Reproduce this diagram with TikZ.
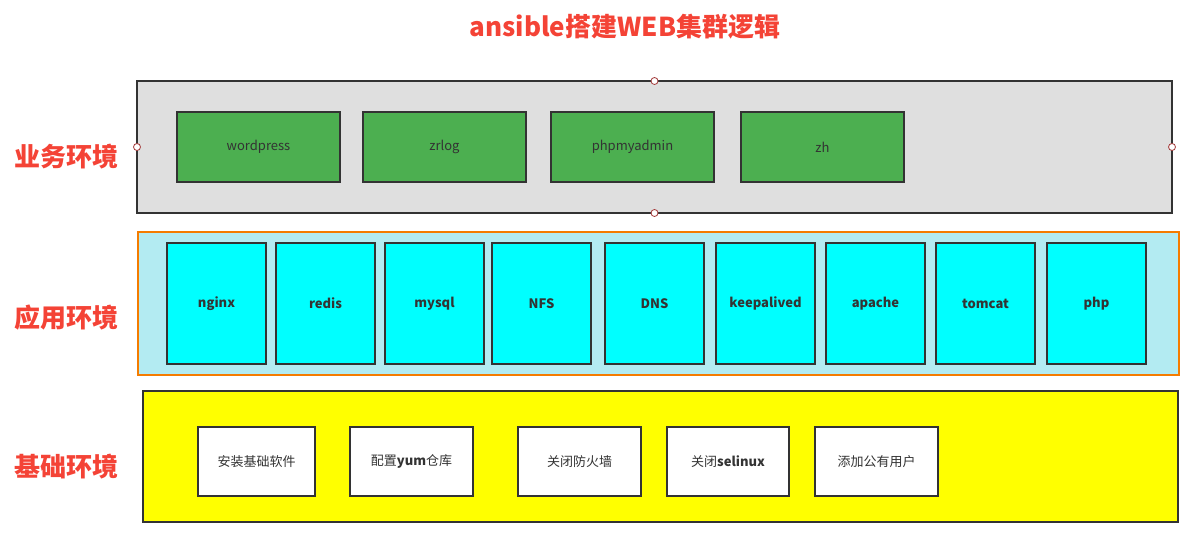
\documentclass[tikz,border=0pt]{standalone}
\usepackage{fontspec}
\setmainfont{Noto Sans CJK SC}
\definecolor{ttlred}{HTML}{F44336}
\definecolor{edge}{HTML}{333333}
\definecolor{grayfill}{HTML}{DFDFDF}
\definecolor{greenfill}{HTML}{4CAF50}
\definecolor{cyanfill}{HTML}{00FFFF}
\definecolor{yellowfill}{HTML}{FFFF00}
\definecolor{lblue}{HTML}{B3EBF2}
\definecolor{orangeedge}{HTML}{F57C00}
\definecolor{handle}{HTML}{A33A3A}
\begin{document}
\begin{tikzpicture}[x=1pt,y=-1pt,
  box/.style={draw=edge,line width=1.5pt,inner sep=0pt,outer sep=0pt,anchor=north west},
  layer/.style={box},
  greenbox/.style={box,fill=greenfill,minimum height=70pt,text=edge,font=\fontsize{13}{15}\selectfont},
  cyanbox/.style={box,fill=cyanfill,minimum height=121pt,minimum width=99pt,text=edge,font=\bfseries\fontsize{13}{15}\selectfont},
  whitebox/.style={box,fill=white,minimum height=69pt,text=edge,font=\fontsize{13}{15}\selectfont},
  sidelabel/.style={text=ttlred,font=\bfseries\fontsize{26}{30}\selectfont},
  hdl/.style={circle,draw=handle,fill=white,line width=0.8pt,minimum size=7pt,inner sep=0pt}]
\useasboundingbox (0,0) rectangle (1189,540);
% title
\node[text=ttlred,font=\bfseries\fontsize{26}{30}\selectfont] (title) at (625,27) {ansible搭建WEB集群逻辑};
% side labels
\node[sidelabel] (l1) at (66,157) {业务环境};
\node[sidelabel] (l2) at (66,318) {应用环境};
\node[sidelabel] (l3) at (66,467) {基础环境};
% business layer
\node[layer,fill=grayfill,minimum width=1035pt,minimum height=132pt] (biz) at (137,81) {};
\node[greenbox,minimum width=163pt] (wp) at (177,112) {wordpress};
\node[greenbox,minimum width=163pt] (zr) at (363,112) {zrlog};
\node[greenbox,minimum width=163pt] (pma) at (551,112) {phpmyadmin};
\node[greenbox,minimum width=163pt] (zh) at (741,112) {zh};
\node[hdl] (h1) at (biz.north) {};
\node[hdl] (h2) at (biz.south) {};
\node[hdl] (h3) at (biz.west) {};
\node[hdl] (h4) at (biz.east) {};
% application layer
\node[box,draw=orangeedge,fill=lblue,minimum width=1041pt,minimum height=143pt] (app) at (138,232) {};
\node[cyanbox] (nginx) at (167,243) {nginx};
\node[cyanbox] (redis) at (276,243) {redis};
\node[cyanbox] (mysql) at (385,243) {mysql};
\node[cyanbox] (nfs) at (492,243) {NFS};
\node[cyanbox] (dns) at (605,243) {DNS};
\node[cyanbox] (keep) at (716,243) {keepalived};
\node[cyanbox] (apache) at (826,243) {apache};
\node[cyanbox] (tomcat) at (936,243) {tomcat};
\node[cyanbox] (php) at (1047,243) {php};
% base layer
\node[layer,fill=yellowfill,minimum width=1035pt,minimum height=131pt] (base) at (143,391) {};
\node[whitebox,minimum width=117pt] (w1) at (198,427) {安装基础软件};
\node[whitebox,minimum width=123pt] (w2) at (350,427) {配置\textbf{yum}仓库};
\node[whitebox,minimum width=123pt] (w3) at (518,427) {关闭防火墙};
\node[whitebox,minimum width=122pt] (w4) at (667,427) {关闭\textbf{selinux}};
\node[whitebox,minimum width=123pt] (w5) at (815,427) {添加公有用户};
\end{tikzpicture}
\end{document}
